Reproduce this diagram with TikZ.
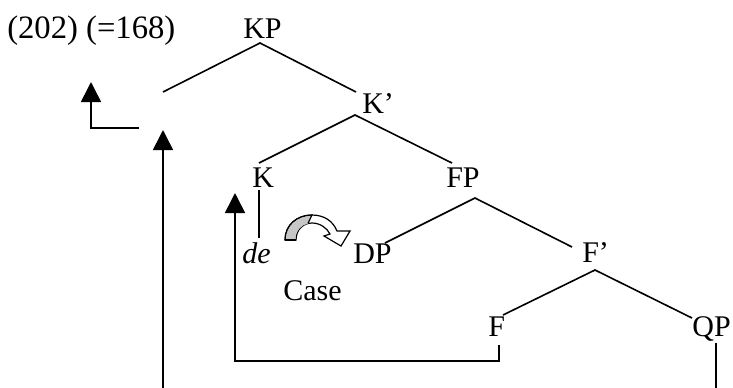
\documentclass[tikz,border=0pt]{standalone}
\usepackage{fontspec}
\setmainfont{Liberation Serif}
\usetikzlibrary{arrows.meta}
\begin{document}
\begin{tikzpicture}[x=0.75pt,y=-0.75pt,
  lbl/.style={inner sep=0pt,anchor=base west,font=\fontsize{22.5}{27}\selectfont},
  br/.style={line width=1.2pt},
  up/.style={line width=1.2pt,-{Triangle[width=15pt,length=15pt]}}]
\useasboundingbox (0,0) rectangle (733,387);
% labels
\node[lbl,font=\fontsize{24.5}{29}\selectfont] (ex) at (7,38) {(202) (=168)};
\node[lbl] (KP) at (243,38) {KP};
\node[lbl] (Kbar) at (362,113) {K’};
\node[lbl] (K) at (252,187) {K};
\node[lbl] (FP) at (446,187) {FP};
\node[lbl] (de) at (242,263) {\itshape de};
\node[lbl] (DP) at (353,263) {DP};
\node[lbl] (case) at (283,300) {Case};
\node[lbl] (Fbar) at (582,262) {F’};
\node[lbl] (F) at (488,336) {F};
\node[lbl,anchor=base east] (QP) at (731,336) {QP};
% branch points
\coordinate (kpa) at (260,43);
\coordinate (kpl) at (163,92);
\coordinate (kpr) at (356,92);
\coordinate (kba) at (355,115);
\coordinate (kbl) at (259,163);
\coordinate (kbr) at (452,163);
\coordinate (fpa) at (475,198);
\coordinate (fpl) at (385,243);
\coordinate (fpr) at (572,247);
\coordinate (fba) at (595,270);
\coordinate (fbl) at (503,315);
\coordinate (fbr) at (692,318);
\coordinate (kv1) at (259,190);
\coordinate (kv2) at (259,238);
\coordinate (f1) at (499,345);
\coordinate (f2) at (499,361);
\coordinate (f3) at (235,361);
\coordinate (f4) at (235,193);
\coordinate (q1) at (716,343);
\coordinate (q2) at (716,388);
\coordinate (l1) at (163,388);
\coordinate (l2) at (163,130);
\coordinate (t1) at (139,128);
\coordinate (t2) at (91,128);
\coordinate (t3) at (91,82);
% tree lines
\draw[br] (kpl) -- (kpa) -- (kpr);
\draw[br] (kbl) -- (kba) -- (kbr);
\draw[br] (fpl) -- (fpa) -- (fpr);
\draw[br] (fbl) -- (fba) -- (fbr);
\draw[br] (kv1) -- (kv2);
\draw[br] (q1) -- (q2);
% movement arrows
\draw[up] (f1) -- (f2) -- (f3) -- (f4);
\draw[up] (l1) -- (l2);
\draw[up] (t1) -- (t2) -- (t3);
% curved case arrow
\draw[line width=0.9pt,fill=white,line join=miter]
  (285,240) .. controls (285,225) and (297,215) .. (312,215)
  .. controls (324,215) and (333,221) .. (337,231) -- (350,231) -- (341,246) -- (324,236) -- (330,234)
  .. controls (327,228) and (320,223) .. (312,223)
  .. controls (303,223) and (296,230) .. (296,240) -- cycle;
\fill[gray!45] (285.8,239.4) .. controls (285.8,225.5) and (297.5,215.8) .. (311.5,215.8)
  -- (308,223.6) .. controls (301.5,224.5) and (295.3,231) .. (295.3,239.4) -- cycle;
\draw[line width=0.9pt]
  (285,240) .. controls (285,225) and (297,215) .. (312,215) -- (308,223.3);
\draw[line width=0.9pt] (285,240) -- (296,240);
\end{tikzpicture}
\end{document}
